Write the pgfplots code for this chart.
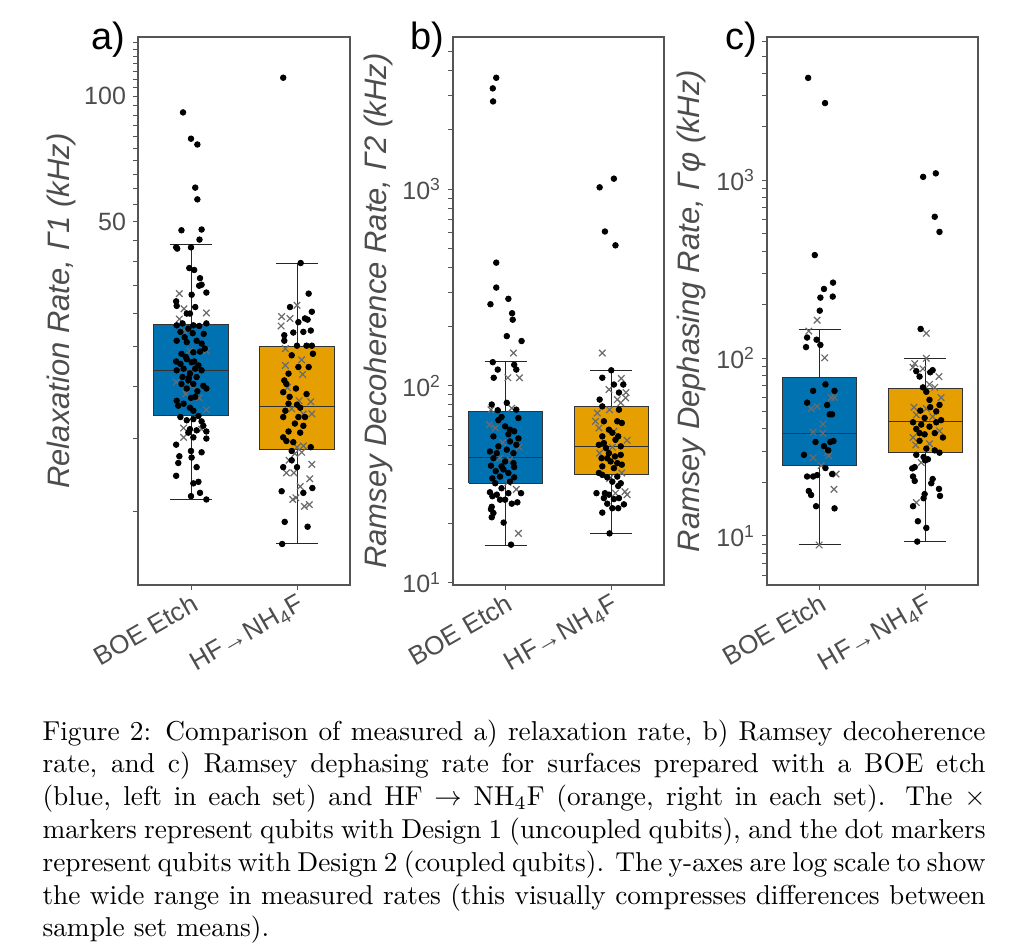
\documentclass[border=0pt]{standalone}
\usepackage{fontspec}
\newfontfamily\lsans{Liberation Sans}
\usepackage{pgfplots}
\pgfplotsset{compat=1.18}
\definecolor{boe}{HTML}{0072B2}
\definecolor{hfc}{HTML}{E69F00}
\definecolor{txtgray}{HTML}{4D4D4D}
\definecolor{framegray}{HTML}{555555}
\newcommand\tickfont{\lsans\fontsize{12.5}{13}\selectfont}
\newcommand\xtickfont{\lsans\fontsize{13}{14}\selectfont}
\newcommand\labfont{\lsans\itshape\fontsize{15.5}{16}\selectfont}
\newcommand\panfont{\lsans\fontsize{19}{20}\selectfont}
\pgfplotsset{
  every axis/.append style={
    scale only axis, height=274pt,
    xmin=0.5, xmax=2.5,
    axis line style={draw=framegray, line width=0.6pt},
    xtick={1,2},
    xtick pos=bottom, ytick pos=left, tick align=outside,
    major tick length=2.5pt, minor tick length=2.5pt,
    tick style={draw=framegray, line width=0.5pt},
    yticklabel style={font=\tickfont, text=txtgray},
    xticklabel style={font=\xtickfont, text=txtgray, rotate=30, anchor=north east, inner sep=1pt},
    ylabel style={font=\labfont, text=txtgray, anchor=center},
  },
  mywhisk/.style={black!85, line width=0.5pt, mark=none, forget plot},
  mybox/.style={draw=black!80, line width=0.5pt, mark=none, forget plot},
  mydots/.style={only marks, mark=*, mark size=1.4pt, black, forget plot},
  mycross/.style={only marks, mark=x, mark size=2.3pt, black!58, mark options={line width=0.6pt}, forget plot},
}
\begin{document}
\begin{tikzpicture}
\useasboundingbox (0,0) rectangle (505pt,475pt);

% ---------------- panel a ----------------
\begin{axis}[ymode=log, width=106pt, at={(69pt,182.5pt)}, anchor=south west,
  ymin=6.66, ymax=139,
  xticklabels={BOE Etch, HF→NH\textsubscript{4}F},
  ytick={50,100}, yticklabels={50,100},
  minor ytick={10,15,20,25,30,35,40,45,55,60,65,70,75,80,85,90,95,105,110,115,120,125,130,135},
  ylabel={Relaxation Rate, Γ1 (kHz)},
  ylabel style={at={(axis description cs:-0.363,0.5)}},
]
\addplot[mywhisk] coordinates {(1,10.7) (1,44.0)};
\addplot[mywhisk] coordinates {(0.8,44.0) (1.2,44.0)};
\addplot[mywhisk] coordinates {(0.8,10.7) (1.2,10.7)};
\addplot[mybox, fill=boe] coordinates {(0.65,17.0) (1.35,17.0) (1.35,28.2) (0.65,28.2) (0.65,17.0)};
\addplot[mybox] coordinates {(0.65,21.9) (1.35,21.9)};
\addplot[mywhisk] coordinates {(2,8.36) (2,39.7)};
\addplot[mywhisk] coordinates {(1.8,39.7) (2.2,39.7)};
\addplot[mywhisk] coordinates {(1.8,8.36) (2.2,8.36)};
\addplot[mybox, fill=hfc] coordinates {(1.65,14.1) (2.35,14.1) (2.35,25.0) (1.65,25.0) (1.65,14.1)};
\addplot[mybox] coordinates {(1.65,17.9) (2.35,17.9)};
\addplot[mycross] table {
x y
0.89 33.5
0.934 30.8
1.145 30.1
0.89 29.1
0.93 27.3
0.99 24.4
1.145 24.4
0.86 20.5
1.006 20.1
0.95 19.2
1.077 18.8
1.145 17.6
0.93 15.9
1.10 15.8
0.93 15.1
2.0 31.4
1.855 29.5
1.934 29.2
1.85 28.0
1.89 24.7
2.044 23.2
1.89 22.5
2.053 21.4
1.91 19.9
2.02 18.5
2.13 18.4
1.95 17.7
2.06 17.2
2.14 17.2
2.0 14.3
2.06 14.4
1.98 13.8
2.044 13.9
1.925 13.3
2.14 13.0
1.90 12.4
1.97 12.4
2.12 12.0
2.03 11.5
1.96 10.7
1.99 10.8
2.07 10.3
2.116 10.4
};
\addplot[mydots] table {
x y
0.925 91.5
1.0 79.1
1.06 76.6
1.04 60.3
1.06 56.5
0.91 47.6
1.10 47.8
1.08 45.2
0.86 43.3
0.87 43.0
1.0 43.3
0.984 38.6
1.03 38.2
1.085 36.5
1.10 35.2
1.077 35.0
1.145 33.7
1.006 33.3
0.86 32.1
0.865 31.3
1.04 31.1
0.99 30.0
0.96 30.0
0.92 28.4
0.865 28.1
1.022 28.1
1.077 28.0
1.145 28.4
0.975 27.6
1.016 26.9
0.90 27.1
0.865 25.8
0.96 25.6
1.053 25.8
1.10 25.4
1.13 24.7
0.91 24.0
1.022 24.2
1.085 24.3
0.86 23.0
0.96 23.3
0.90 22.7
1.006 22.9
1.07 22.5
0.93 22.1
1.04 22.1
0.865 21.9
0.99 21.5
1.10 21.9
0.92 21.1
1.053 21.1
0.975 20.7
1.022 20.3
0.91 20.3
1.116 20.1
1.145 19.8
0.96 19.8
0.865 18.5
1.04 18.9
0.93 18.2
0.99 17.8
0.88 18.0
1.022 17.5
0.90 16.9
1.07 17.0
0.96 16.6
1.022 16.7
1.10 16.5
1.116 16.1
0.99 15.8
0.975 15.5
1.053 15.7
1.022 15.1
1.145 15.0
1.145 15.6
0.86 14.5
1.0 14.0
1.10 13.9
0.89 13.6
1.006 13.5
0.88 13.1
1.053 12.8
0.86 12.2
1.07 11.8
1.022 11.7
1.0 10.9
1.085 11.1
1.145 10.7
0.95 23.6
1.03 23.0
0.98 21.0
1.06 19.5
0.94 26.3
1.12 26.8
1.0 18.8
1.87 110.9
2.035 39.7
2.11 33.5
1.934 31.1
2.14 30.3
2.075 29.2
2.10 29.0
2.013 28.6
1.88 26.6
1.965 27.0
2.06 27.1
2.13 27.3
1.88 25.8
2.0 25.1
2.09 25.1
2.14 25.1
1.95 23.8
2.15 24.0
2.013 22.3
2.11 22.3
1.92 21.5
1.88 20.7
1.90 20.3
1.99 19.8
1.87 19.4
1.93 18.9
2.09 19.2
1.92 18.2
2.0 18.1
2.03 17.8
1.89 17.5
1.87 16.9
2.013 16.9
2.075 16.9
1.98 16.3
2.06 16.1
1.92 15.6
2.03 15.5
1.87 15.1
1.90 14.8
1.965 14.7
2.13 14.3
1.95 14.0
1.95 13.3
1.87 12.8
2.0 12.8
2.145 11.4
1.855 11.2
2.06 11.1
1.884 9.45
2.10 9.2
1.86 8.36
};
\end{axis}

% ---------------- panel b ----------------
\begin{axis}[ymode=log, width=105.5pt, at={(226.5pt,182.5pt)}, anchor=south west,
  ymin=9.73, ymax=5930,
  xticklabels={BOE Etch, HF→NH\textsubscript{4}F},
  ytick={10,100,1000}, yticklabels={{10\textsuperscript{1}},{10\textsuperscript{2}},{10\textsuperscript{3}}},
  minor ytick={20,30,40,50,60,70,80,90,200,300,400,500,600,700,800,900,2000,3000,4000,5000},
  ylabel={Ramsey Decoherence Rate, Γ2 (kHz)},
  ylabel style={at={(axis description cs:-0.355,0.5)}},
]
\addplot[mywhisk] coordinates {(1,15.5) (1,132.5)};
\addplot[mywhisk] coordinates {(0.8,132.5) (1.2,132.5)};
\addplot[mywhisk] coordinates {(0.8,15.5) (1.2,15.5)};
\addplot[mybox, fill=boe] coordinates {(0.65,32.0) (1.35,32.0) (1.35,74.3) (0.65,74.3) (0.65,32.0)};
\addplot[mybox] coordinates {(0.65,43.3) (1.35,43.3)};
\addplot[mywhisk] coordinates {(2,17.8) (2,120.2)};
\addplot[mywhisk] coordinates {(1.8,120.2) (2.2,120.2)};
\addplot[mywhisk] coordinates {(1.8,17.8) (2.2,17.8)};
\addplot[mybox, fill=hfc] coordinates {(1.65,35.3) (2.35,35.3) (2.35,78.8) (1.65,78.8) (1.65,35.3)};
\addplot[mybox] coordinates {(1.65,49.3) (2.35,49.3)};
\addplot[mycross] table {
x y
1.073 147
1.02 110
1.13 110
0.86 75.7
1.057 77
0.845 63.5
0.90 61.1
0.97 51.5
1.127 48.8
0.946 42.9
1.04 42.1
1.02 32.3
1.10 29.8
1.12 17.8
1.915 147
2.095 109
1.978 95.9
2.14 92.5
2.057 85.2
2.136 86.9
2.09 82
1.867 72.8
1.984 75.7
1.85 66.1
1.883 61.1
2.025 58.8
2.15 52.9
2.01 48.8
1.89 45.5
2.10 36.1
1.984 33.9
2.04 28.5
2.13 29.0
2.15 28.0
};
\addplot[mydots] table {
x y
0.91 3680
0.877 3250
0.88 2790
0.91 423
0.91 316
1.025 277
0.855 260
1.06 234
1.066 217
1.01 179
1.15 169
0.877 132
0.924 121
1.08 128
1.10 121
0.886 110
0.867 80.4
1.01 82
0.924 75.2
1.10 75.7
0.96 69.5
1.12 68.6
0.994 62.3
1.04 59.9
1.08 58.8
0.883 55.4
1.04 52.2
1.10 50.2
0.85 46.4
1.01 47.4
1.073 45.5
0.883 42.9
0.994 41.3
0.86 39.3
0.96 39.0
1.08 38.7
0.905 36.9
1.025 36.1
0.873 33.9
1.08 34.3
0.90 32.0
0.96 30.2
0.85 28.8
0.915 28.0
1.025 28.5
1.145 28.5
0.994 26.4
1.11 25.6
0.867 24.3
0.86 23.6
0.867 21.5
0.98 20.2
1.05 15.6
0.93 67
1.025 56.8
0.93 49.3
1.073 40.5
0.946 34.6
1.04 32.6
0.978 37.6
0.915 45.5
1.12 54.1
0.873 27.5
0.946 26.4
1.057 25.2
0.883 22.6
1.89 1021
2.025 1130
1.94 609
2.04 518
2.0 120
1.915 110
2.025 101.6
2.114 101.6
2.073 92.5
1.89 85.2
1.915 78.7
2.073 75.7
1.93 66.1
2.057 66.1
1.978 59.9
1.915 55.4
2.066 55.4
1.883 50.2
1.95 48.3
2.09 49.3
1.978 45.5
2.035 43.8
2.09 44.6
1.908 42.9
1.994 41.3
2.057 40.5
1.915 39.0
2.025 38.2
1.962 34.3
2.057 34.6
2.066 31.0
1.86 28.5
1.94 28.5
1.978 28.0
1.93 26.9
2.025 26.6
2.073 26.9
1.962 25.2
2.01 23.9
2.12 25.0
2.066 23.9
1.915 22.7
1.984 17.8
2.01 57.8
1.93 51.2
2.04 53.2
1.962 42.9
2.10 39.8
1.915 35.3
2.01 32.6
2.09 32.0
1.883 36.1
2.10 64.8
};
\end{axis}

% ---------------- panel c ----------------
\begin{axis}[ymode=log, width=105.5pt, at={(383.5pt,182.5pt)}, anchor=south west,
  ymin=5.3, ymax=6400,
  xticklabels={BOE Etch, HF→NH\textsubscript{4}F},
  ytick={10,100,1000}, yticklabels={{10\textsuperscript{1}},{10\textsuperscript{2}},{10\textsuperscript{3}}},
  minor ytick={6,7,8,9,20,30,40,50,60,70,80,90,200,300,400,500,600,700,800,900,2000,3000,4000,5000,6000},
  ylabel={Ramsey Dephasing Rate, Γφ (kHz)},
  ylabel style={at={(axis description cs:-0.36,0.5)}},
]
\addplot[mywhisk] coordinates {(1,8.9) (1,144.6)};
\addplot[mywhisk] coordinates {(0.8,144.6) (1.2,144.6)};
\addplot[mywhisk] coordinates {(0.8,8.9) (1.2,8.9)};
\addplot[mybox, fill=boe] coordinates {(0.65,24.9) (1.35,24.9) (1.35,77.9) (0.65,77.9) (0.65,24.9)};
\addplot[mybox] coordinates {(0.65,37.9) (1.35,37.9)};
\addplot[mywhisk] coordinates {(2,9.3) (2,99.8)};
\addplot[mywhisk] coordinates {(1.8,99.8) (2.2,99.8)};
\addplot[mywhisk] coordinates {(1.8,9.3) (2.2,9.3)};
\addplot[mybox, fill=hfc] coordinates {(1.65,29.4) (2.35,29.4) (2.35,67.6) (1.65,67.6) (1.65,29.4)};
\addplot[mybox] coordinates {(1.65,44.1) (2.35,44.1)};
\addplot[mycross] table {
x y
0.975 163.5
0.896 142
1.047 100.4
0.918 52.0
0.975 53.5
1.107 60.0
1.14 60.0
1.03 42.6
0.937 38.4
1.03 37.9
1.07 29.4
1.085 28.3
0.937 27.5
1.013 24.9
1.155 22.3
1.135 18.3
0.994 8.9
2.01 138
1.9 93.2
1.884 88.9
1.978 87.1
2.01 99.8
2.13 78.8
2.04 71.2
2.09 68.5
2.15 60.0
1.893 53.0
2.01 52.0
1.915 48.0
2.07 46.9
2.135 38.9
1.884 35.8
2.04 33.0
1.91 32.5
1.962 25.9
1.915 15.4
};
\addplot[mydots] table {
x y
0.89 3770
1.05 2720
0.953 380
1.126 266
1.04 245
1.123 222
1.006 219
1.0 185
0.88 130.6
0.97 127
1.006 118.7
0.87 115.4
1.054 71.2
0.937 65.5
1.14 65.5
0.88 56.2
1.07 54.5
1.094 48.3
1.117 48.3
1.10 33.8
0.96 33.8
1.04 32.0
1.13 34.2
0.85 28.6
1.08 30.3
1.054 24.1
0.88 21.6
0.937 21.6
0.975 22.0
1.117 22.3
0.896 17.9
0.918 17.0
0.965 14.7
1.14 14.3
1.98 1046
2.1 1095
2.09 624
2.135 513
1.956 146
1.915 84.5
2.047 83.3
2.07 85.6
1.946 78.8
1.978 68.5
2.01 64.7
2.04 58.3
2.135 54.6
1.953 50.7
2.104 50.2
1.994 46.1
2.15 44.8
1.884 43.6
1.962 42.3
2.04 41.2
1.915 40.0
2.09 37.9
1.994 37.3
1.946 34.3
2.167 35.8
2.01 31.0
2.09 30.3
2.135 29.4
1.915 28.6
1.984 27.8
2.0 26.6
1.9 24.4
1.877 24.0
1.884 21.6
1.9 20.4
2.07 20.9
2.057 19.8
2.13 18.4
2.14 16.8
1.994 17.2
1.984 16.3
1.884 14.7
1.93 12.1
2.01 11.1
1.924 9.3
2.047 53.0
2.104 43.6
1.946 37.9
2.025 27.0
};
\end{axis}

\node[font=\panfont] at (54pt,455pt) {a)};
\node[font=\panfont] at (213.5pt,455pt) {b)};
\node[font=\panfont] at (370.5pt,455pt) {c)};

\node[anchor=north west, inner sep=0pt, text width=345pt, align=justify,
  font=\fontsize{10}{12}\selectfont, scale=1.3667, transform shape] at (21pt,115.5pt)
{Figure 2: Comparison of measured a) relaxation rate, b) Ramsey decoherence rate, and c) Ramsey dephasing rate for surfaces prepared with a BOE etch (blue, left in each set) and HF $\rightarrow$ NH$_4$F (orange, right in each set). The $\times$ markers represent qubits with Design 1 (uncoupled qubits), and the dot markers represent qubits with Design 2 (coupled qubits). The y-axes are log scale to show the wide range in measured rates (this visually compresses differences between sample set means).};
\end{tikzpicture}
\end{document}
